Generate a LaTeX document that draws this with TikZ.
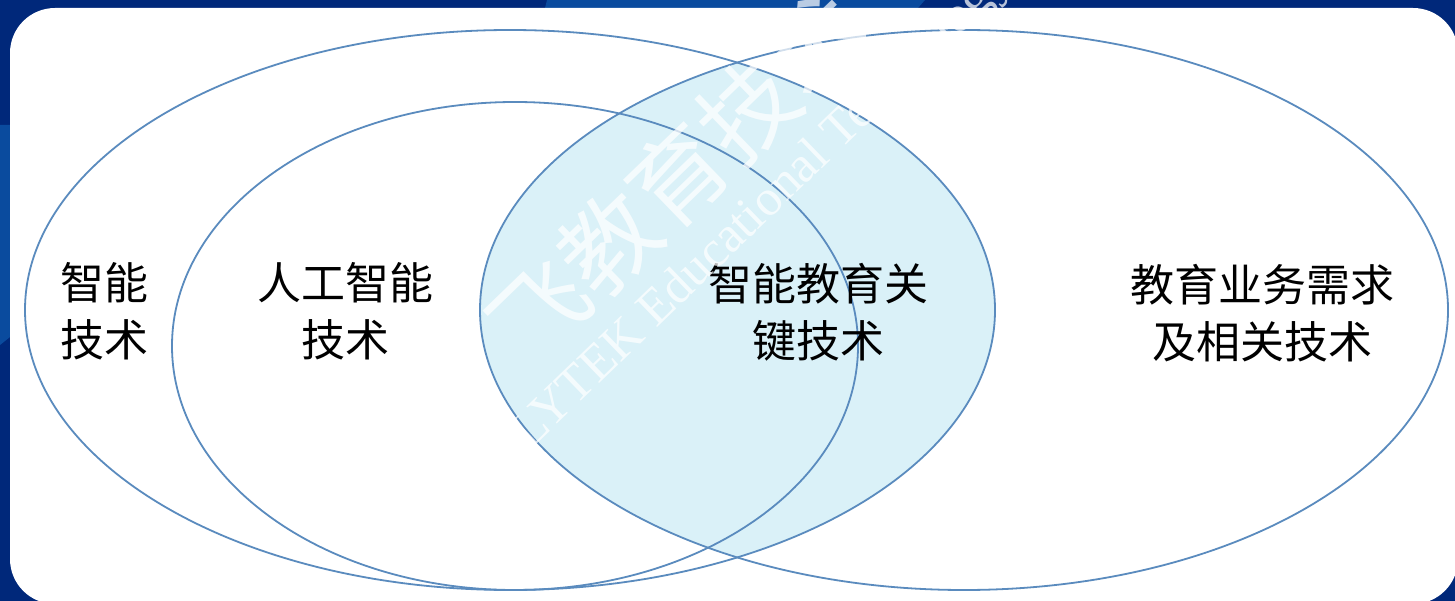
\documentclass[tikz,border=0pt]{standalone}
\usepackage{fontspec}
\newfontfamily\cjk{Noto Sans CJK SC}
\newfontfamily\wmserif{Liberation Serif}
\definecolor{navy}{HTML}{00287A}
\definecolor{navylight}{HTML}{0A4B9E}
\definecolor{venline}{HTML}{5A8BBE}
\definecolor{venfill}{HTML}{DAF1F8}
\tikzset{
  venn/.style={draw=venline, line width=1.8pt},
  label/.style={align=center, text=black, inner sep=0pt,
    font=\cjk\fontsize{44}{57}\selectfont},
  watermark/.style={text=white, opacity=0.72, inner sep=0pt}
}
\begin{document}
\begin{tikzpicture}[x=1pt,y=-1pt]
\useasboundingbox (0,0) rectangle (1455,601);
% background
\fill[navy] (0,0) rectangle (1455,601);
\fill[navylight] (0,125) -- (10,125) -- (10,337) -- (0,345) -- cycle;
\fill[navylight] (547,0) -- (925,0) -- (918,8) -- (545,8) -- cycle;
% white card
\fill[white, rounded corners=45pt] (10,8) rectangle (1458,604);
% shaded intersection
\begin{scope}
  \clip (510,310) ellipse [x radius=485pt, y radius=280pt];
  \fill[venfill] (964,310) ellipse [x radius=484pt, y radius=280pt];
\end{scope}
% ellipses
\draw[venn] (510,310) ellipse [x radius=485pt, y radius=280pt];
\draw[venn] (515,346) ellipse [x radius=343pt, y radius=244pt];
\draw[venn] (964,310) ellipse [x radius=484pt, y radius=280pt];
% labels
\node[label] (zn) at (104,311) {智能\\技术};
\node[label] (rg) at (345,311) {人工智能\\技术};
\node[label] (gj) at (818,312) {智能教育关\\键技术};
\node[label] (yw) at (1262,313) {教育业务需求\\及相关技术};
% watermark
\node[watermark, rotate=44, font=\cjk\fontsize{96}{96}\selectfont] (wmcn) at (678,176) {飞教育技术};
\node[watermark, rotate=44, font=\wmserif\fontsize{51}{51}\selectfont] (wmen) at (748,223) {iFLYTEK Educational Technology};
\end{tikzpicture}
\end{document}
